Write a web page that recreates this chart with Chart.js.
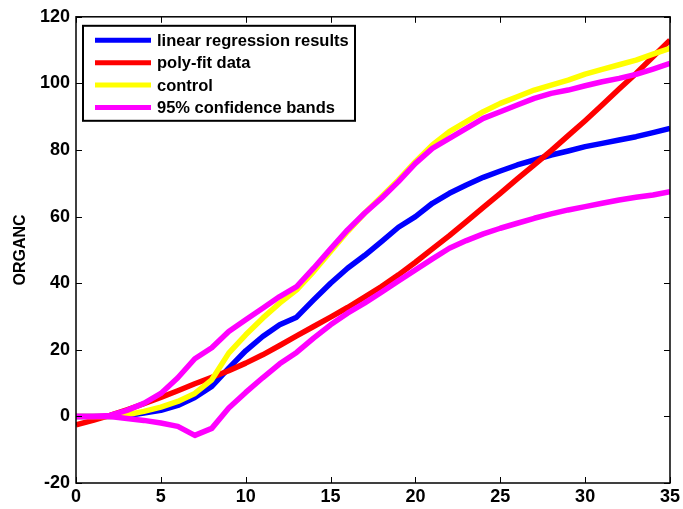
<!DOCTYPE html>
<html>
<head>
<meta charset="utf-8">
<script src="https://cdn.jsdelivr.net/npm/chart.js@4/dist/chart.umd.min.js"></script>
<style>
html,body{margin:0;padding:0;background:#fff;}
#wrap{width:683px;height:509px;}
</style>
</head>
<body>
<div id="wrap"><canvas id="c" width="683" height="509"></canvas></div>
<script>
// x positions
const xs = [0,1,2,3,4,5,6,7,8,9,10,11,12,13,14,15,16,17,18,19,20,21,22,23,24,25,26,27,28,29,30,31,32,33,34,35];

const linearReg = [0,0,0,0.3,1,1.8,3.3,5.7,9,14.5,19.7,24,27.5,29.8,35,40,44.5,48.3,52.5,56.8,60,64,67,69.5,71.8,73.7,75.5,77,78.5,79.7,81,82,83,84,85.2,86.5];
const polyFit = [-2.5,-1.2,0.3,2,3.8,5.7,7.7,9.8,11.7,13.7,16,18.5,21.3,24.2,27,29.8,32.7,35.8,39,42.5,46.3,50.3,54.3,58.5,62.8,67,71.3,75.5,79.8,84.3,88.8,93.5,98.3,103,108,113];
const control = [0,0,0,0.5,1.5,2.8,4.5,6.9,11,19,24.5,29.5,34,38,43.5,49.5,55.5,61,66,71,76.5,81.5,85.5,88.5,91.5,94,96,98,99.5,101,102.8,104.2,105.6,107,108.8,110.5];
const bandUpper = [0,0,0.3,1.8,3.9,6.9,11.6,17.3,20.6,25.5,29,32.5,36,39,44.5,50.3,56,61,65.5,70.5,76,80.5,83.5,86.5,89.5,91.5,93.5,95.5,97,98,99.3,100.5,101.5,102.7,104.3,106];
const bandLower = [0,0,0,-0.6,-1.2,-2,-3,-5.7,-3.6,2.5,7.2,11.6,15.8,19.2,23.5,27.5,31,34,37.3,40.7,44,47.3,50.5,52.8,54.8,56.5,58,59.5,60.8,62,63,64,65,65.8,66.5,67.5];

const xTicks = [0,5,10,15,20,25,30,35];
const yTicks = [-20,0,20,40,60,80,100,120];
const legendLabels = ["linear regression results","poly-fit data","control","95% confidence bands"];

function pts(arr){ return xs.map((x,i)=>({x:x,y:arr[i]})); }

const FONT = "'Liberation Sans', Arial, Helvetica, sans-serif";

// box, inward ticks and legend inside plot
const boxPlugin = {
  id:'box',
  afterDatasetsDraw(chart){
    const ctx = chart.ctx, a = chart.chartArea;
    const sx = chart.scales.x, sy = chart.scales.y;
    ctx.save();
    ctx.strokeStyle = '#000';
    ctx.lineWidth = 1;
    const t = 6;
    ctx.beginPath();
    xTicks.forEach(v=>{
      const p = Math.round(sx.getPixelForValue(v))+0.5;
      ctx.moveTo(p,a.bottom); ctx.lineTo(p,a.bottom-t);
      ctx.moveTo(p,a.top); ctx.lineTo(p,a.top+t);
    });
    yTicks.forEach(v=>{
      const p = Math.round(sy.getPixelForValue(v))+0.5;
      ctx.moveTo(a.left,p); ctx.lineTo(a.left+t,p);
      ctx.moveTo(a.right,p); ctx.lineTo(a.right-t,p);
    });
    ctx.stroke();
    ctx.lineWidth = 1.5;
    ctx.strokeRect(a.left, a.top, a.right-a.left, a.bottom-a.top);

    // legend
    const lx = a.left+7, ly = a.top+9, lw = 272, lh = 95;
    ctx.fillStyle = '#fff';
    ctx.fillRect(lx,ly,lw,lh);
    ctx.lineWidth = 2;
    ctx.strokeRect(lx,ly,lw,lh);
    ctx.font = "bold 16.5px " + FONT;
    ctx.textBaseline = 'middle';
    ctx.textAlign = 'left';
    legendLabels.forEach((lab,i)=>{
      const ds = chart.data.datasets[i];
      const y = ly + 14.5 + i*22.4;
      ctx.strokeStyle = ds.borderColor;
      ctx.lineWidth = 5;
      ctx.beginPath();
      ctx.moveTo(lx+12,y); ctx.lineTo(lx+68,y);
      ctx.stroke();
      ctx.fillStyle = '#000';
      ctx.fillText(lab, lx+74, y+1);
    });
    ctx.restore();
  }
};

const lineStyle = {borderWidth:5.5, pointRadius:0, tension:0, fill:false, borderJoinStyle:'round', borderCapStyle:'butt'};

new Chart(document.getElementById('c'),{
  type:'line',
  data:{
    datasets:[
      Object.assign({label:legendLabels[0], data:pts(linearReg), borderColor:'#0000ff', order:5}, lineStyle),
      Object.assign({label:legendLabels[1], data:pts(polyFit), borderColor:'#ff0000', order:4}, lineStyle),
      Object.assign({label:legendLabels[2], data:pts(control), borderColor:'#ffff00', order:3}, lineStyle),
      Object.assign({label:legendLabels[3], data:pts(bandUpper), borderColor:'#ff00ff', order:2}, lineStyle),
      Object.assign({label:'lower band', data:pts(bandLower), borderColor:'#ff00ff', order:1}, lineStyle)
    ]
  },
  options:{
    responsive:false,
    animation:false,
    layout:{padding:{left:0, right:12, top:14, bottom:0}},
    plugins:{legend:{display:false}, tooltip:{enabled:false}},
    scales:{
      x:{
        type:'linear', min:0, max:35,
        grid:{display:false, drawTicks:false}, border:{display:false},
        afterBuildTicks:s=>{ s.ticks = xTicks.map(v=>({value:v})); },
        afterFit:s=>{ s.height = 26; },
        ticks:{color:'#000', padding:3, maxRotation:0, font:{family:FONT, size:18, weight:'bold'}}
      },
      y:{
        min:-20, max:120,
        grid:{display:false, drawTicks:false}, border:{display:false},
        afterBuildTicks:s=>{ s.ticks = yTicks.map(v=>({value:v})); },
        afterFit:s=>{ s.width = 76; },
        title:{display:true, text:'ORGANC', color:'#000', padding:{top:11,bottom:0}, font:{family:FONT, size:16, weight:'bold'}},
        ticks:{color:'#000', padding:6, font:{family:FONT, size:18, weight:'bold'}}
      }
    }
  },
  plugins:[boxPlugin]
});
</script>
</body>
</html>
